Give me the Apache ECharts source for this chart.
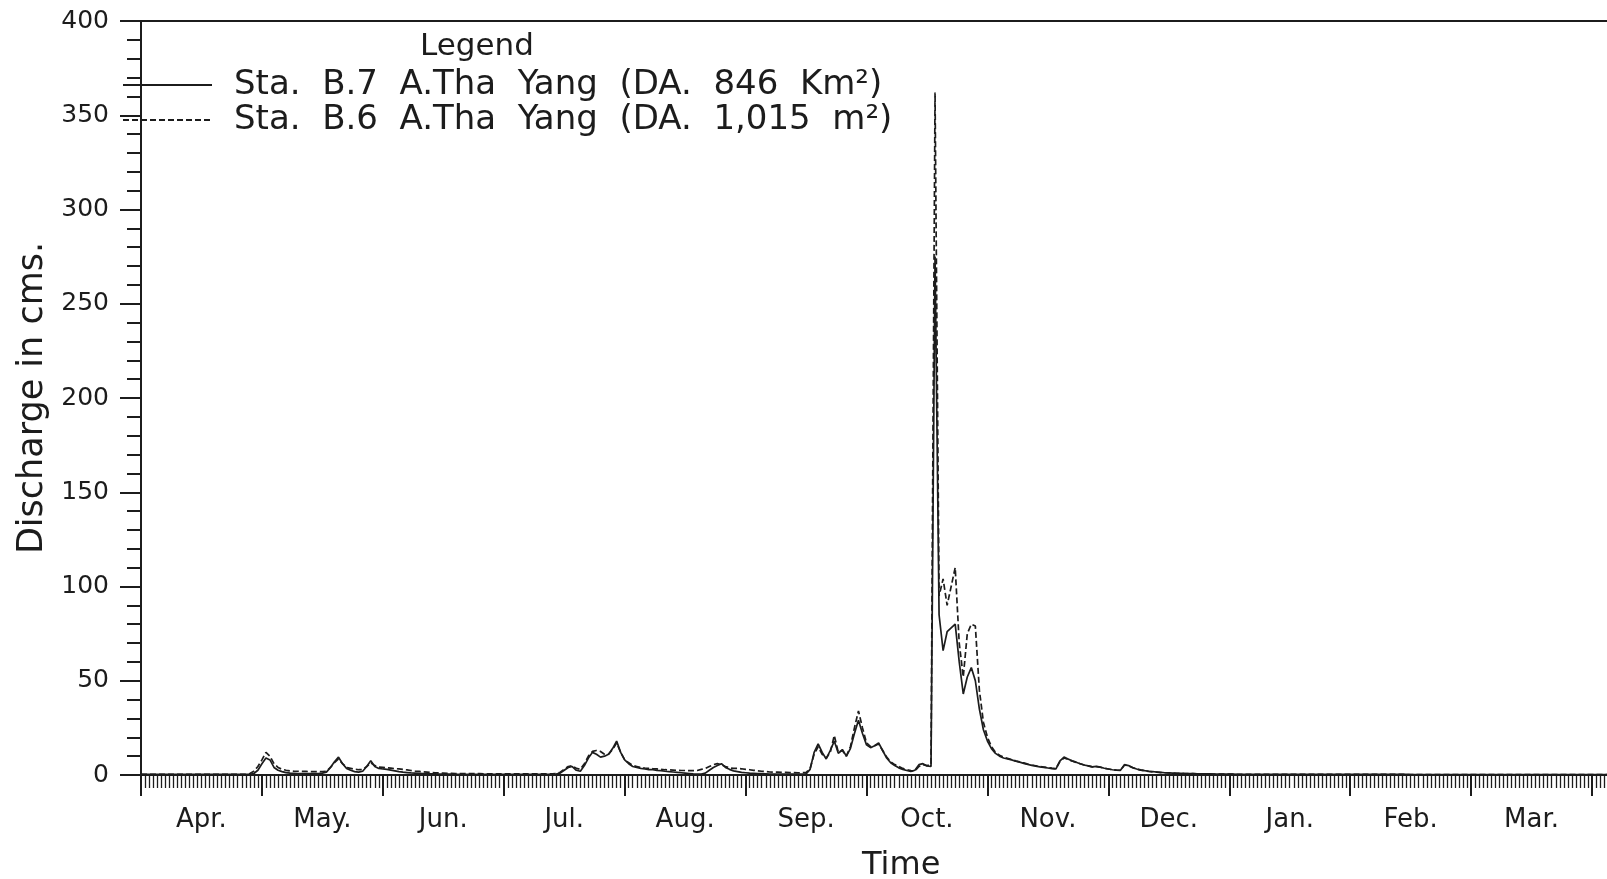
<!DOCTYPE html>
<html>
<head>
<meta charset="utf-8">
<script src="https://cdn.jsdelivr.net/npm/echarts@6/dist/echarts.min.js"></script>
<style>
html,body{margin:0;padding:0;background:#ffffff;}
#chart{width:1607px;height:879px;}
</style>
</head>
<body>
<div id="chart"></div>
<script>
// Month labels (each month drawn as an equal 30-day slot, as in the original plot)
var monthLabels = ['Apr.','May.','Jun.','Jul.','Aug.','Sep.','Oct.','Nov.','Dec.','Jan.','Feb.','Mar.','Apr.'];
var yTicks = [0,50,100,150,200,250,300,350,400];
var seriesNames = ['Sta.  B.7  A.Tha  Yang  (DA.  846  Km²)', 'Sta.  B.6  A.Tha  Yang  (DA.  1,015  m²)'];

// Daily discharge (cms), Sta. B.7 (solid line)
var b7 = [
  0.3,0.3,0.3,0.3,0.3,0.3,0.3,0.3,0.3,0.3,0.3,0.3,0.3,0.3,0.3,0.3,0.3,0.3,0.3,0.3,0.3,0.3,0.3,0.3,0.3,0.3,0.3,0.3,0.8,2.5,
  6,9,8,4,2.5,1.8,1.3,1.0,0.9,0.8,0.8,0.7,0.7,0.8,0.8,1.0,1.5,4,7,9.5,6,3.5,2.5,1.8,1.5,2,4.5,7.5,4.5,3.5,
  3.2,3,2.6,2.2,1.8,1.5,1.3,1.1,1,0.9,0.8,0.7,0.6,0.6,0.5,0.5,0.5,0.5,0.4,0.4,0.4,0.4,0.4,0.4,0.4,0.4,0.4,0.4,0.4,0.4,
  0.4,0.4,0.4,0.4,0.4,0.4,0.4,0.4,0.4,0.4,0.4,0.4,0.4,0.5,1,2.5,4,4.5,2.5,2,5,9,12,11,9.5,10,11,14,18,12,
  8,6,4.5,4,3.5,3.2,2.8,2.8,2.5,2.3,2,1.8,1.6,1.4,1.2,1,0.8,0.6,0.5,0.5,1,2.5,4,5,6,4,3,2.2,1.8,1.4,
  1.2,1,0.9,0.8,0.7,0.6,0.5,0.5,0.5,0.5,0.5,0.5,0.5,0.5,0.5,0.6,3,12,16.5,12,8.5,13,18,11.5,13.5,10,14,22,29,22,
  16,14.5,15.5,17,13,9,6.5,5,3.8,3,2.4,1.9,2.5,5.5,6,4.8,4.5,275,85,66,76,78,80,60,43,52,57,50,35,24,
  18,14,11.5,10,9,8.5,8,7.3,6.8,6.2,5.6,5.1,4.7,4.3,4,3.7,3.4,3.3,7.5,9.5,8.5,7.5,6.8,6,5.3,4.8,4.3,4.6,4.2,3.6,
  3.2,2.8,2.6,2.5,5.5,5,4,3.2,2.7,2.3,2,1.8,1.6,1.4,1.2,1.1,1,0.9,0.85,0.8,0.75,0.7,0.65,0.6,0.6,0.55,0.5,0.5,0.5,0.45,
  0.45,0.45,0.4,0.4,0.4,0.4,0.4,0.38,0.38,0.38,0.36,0.36,0.36,0.35,0.35,0.35,0.34,0.34,0.34,0.33,0.33,0.33,0.32,0.32,0.32,0.31,0.31,0.31,0.3,0.3,
  0.3,0.3,0.3,0.3,0.3,0.29,0.29,0.29,0.29,0.29,0.28,0.28,0.28,0.28,0.28,0.27,0.27,0.27,0.27,0.27,0.26,0.26,0.26,0.26,0.26,0.25,0.25,0.25,0.25,0.25,
  0.25,0.25,0.25,0.24,0.24,0.24,0.24,0.24,0.23,0.23,0.23,0.23,0.23,0.22,0.22,0.22,0.22,0.22,0.21,0.21,0.21,0.21,0.21,0.2,0.2,0.2,0.2,0.2,0.2,0.2,
  0.2,0.2,0.2,0.2,0.2
];

// Daily discharge (cms), Sta. B.6 (dashed line)
var b6 = [
  0.3,0.3,0.3,0.3,0.3,0.3,0.3,0.3,0.3,0.3,0.3,0.3,0.3,0.3,0.3,0.3,0.3,0.3,0.3,0.3,0.3,0.3,0.3,0.3,0.3,0.3,0.3,0.8,2,4.5,
  8,12,10,6,4,3,2.5,2.2,2,2,1.9,1.9,1.8,1.8,1.8,1.8,2,4,6.5,8.5,6,4,3.5,3,2.8,2.8,4.5,6.5,5,4.2,
  4,3.8,3.6,3.4,3.2,3,2.7,2.4,2.1,1.9,1.7,1.5,1.3,1.2,1.1,1,0.9,0.9,0.8,0.8,0.8,0.7,0.7,0.7,0.7,0.6,0.6,0.6,0.6,0.6,
  0.6,0.6,0.6,0.6,0.6,0.6,0.6,0.6,0.6,0.6,0.6,0.6,0.6,0.7,1.5,3,4.5,5,3.5,3,6,10,12.5,13,12.5,11,11,13.5,17,12,
  8,6.5,5,4.5,4,3.7,3.5,3.3,3.2,3,2.8,2.7,2.6,2.5,2.4,2.4,2.3,2.3,2.4,3,3.5,4.5,5.5,6,5.5,4.5,3.8,3.5,3.5,3.3,
  3,2.8,2.5,2.2,2,1.8,1.6,1.5,1.5,1.4,1.4,1.3,1.3,1.2,1.2,1.3,3.5,11,15,11,9,12,21,12,13,10,15,25,34,25,
  17,15,15.5,16.5,13,9.5,7,5.5,4.5,3.5,2.8,2.3,2.2,4.5,5.5,5,5.5,362,95,104,90,100,110,70,52,75,80,79,45,28,
  20,15,12,10.5,9.5,8.8,8.2,7.5,7,6.4,5.8,5.3,4.9,4.5,4.2,3.9,3.6,3.4,7.2,9,8.3,7.4,6.7,6,5.3,4.8,4.3,4.5,4.1,3.6,
  3.2,2.8,2.6,2.5,5.3,4.8,3.9,3.1,2.6,2.2,1.9,1.7,1.5,1.3,1.2,1.1,1,0.9,0.85,0.8,0.75,0.7,0.65,0.6,0.6,0.55,0.5,0.5,0.5,0.45,
  0.45,0.45,0.4,0.4,0.4,0.4,0.4,0.38,0.38,0.38,0.36,0.36,0.36,0.35,0.35,0.35,0.34,0.34,0.34,0.33,0.33,0.33,0.32,0.32,0.32,0.31,0.31,0.31,0.3,0.3,
  0.3,0.3,0.3,0.3,0.3,0.29,0.29,0.29,0.29,0.29,0.28,0.28,0.28,0.28,0.28,0.27,0.27,0.27,0.27,0.27,0.26,0.26,0.26,0.26,0.26,0.25,0.25,0.25,0.25,0.25,
  0.25,0.25,0.25,0.24,0.24,0.24,0.24,0.24,0.23,0.23,0.23,0.23,0.23,0.22,0.22,0.22,0.22,0.22,0.21,0.21,0.21,0.21,0.21,0.2,0.2,0.2,0.2,0.2,0.2,0.2,
  0.2,0.2,0.2,0.2,0.2
];

var FONT = 'DejaVu Sans';
var INK = '#1c1c1c';
var DAYS_PER_SLOT = 30;
var HALF = DAYS_PER_SLOT / 2;
var xMax = DAYS_PER_SLOT * monthLabels.length;

function toPairs(arr){ return arr.map(function(v,i){ return [i, v]; }); }

var chart = echarts.init(document.getElementById('chart'), null, {renderer:'canvas'});
chart.setOption({
  backgroundColor: '#ffffff',
  animation: false,
  textStyle: {fontFamily: FONT, color: INK},
  title: [
    {text: 'Legend', left: 420, top: 31, padding: 0,
     textStyle: {fontFamily: FONT, fontSize: 31, fontWeight: 'normal', color: INK}},
    {text: 'Time', left: 862, top: 850, padding: 0,
     textStyle: {fontFamily: FONT, fontSize: 32, fontWeight: 'normal', color: INK}}
  ],
  legend: {
    orient: 'vertical',
    left: 122, top: 68,
    itemWidth: 89, itemHeight: 14, itemGap: 1,
    padding: 0,
    data: seriesNames,
    itemStyle: {color: 'rgba(0,0,0,0)', borderWidth: 0, opacity: 0},
    textStyle: {fontFamily: FONT, fontSize: 34, color: INK, lineHeight: 34, padding: [0,0,0,17]},
    inactiveColor: INK
  },
  grid: {left: 141, top: 21, height: 754, width: 120.92 * monthLabels.length,
         containLabel: false, outerBoundsMode: 'none'},
  xAxis: [
    {
      type: 'value', min: 0, max: xMax, interval: DAYS_PER_SLOT, position: 'bottom',
      axisLine: {show: true, onZero: false, lineStyle: {color: INK, width: 2}},
      axisTick: {show: true, inside: false, length: 21, lineStyle: {color: INK, width: 2}},
      minorTick: {show: true, splitNumber: DAYS_PER_SLOT, length: 13, lineStyle: {color: INK, width: 1.3}},
      axisLabel: {show: false},
      splitLine: {show: false}, minorSplitLine: {show: false}
    },
    {
      type: 'value', min: 0, max: xMax, interval: HALF, position: 'bottom',
      axisLine: {show: false}, axisTick: {show: false},
      axisLabel: {show: true, margin: 32, fontFamily: FONT, fontSize: 26, color: INK,
        showMinLabel: true, showMaxLabel: true,
        formatter: function(v){
          var k = Math.round(v / HALF);
          return (k % 2 === 1) ? monthLabels[(k - 1) / 2] : '';
        }},
      splitLine: {show: false}
    },
    {
      type: 'value', min: 0, max: xMax, position: 'top',
      axisLine: {show: true, onZero: false, lineStyle: {color: INK, width: 2}},
      axisTick: {show: false}, axisLabel: {show: false}, splitLine: {show: false}
    }
  ],
  yAxis: {
    type: 'value', min: yTicks[0], max: yTicks[yTicks.length-1], interval: 50,
    name: 'Discharge in cms.', nameLocation: 'middle', nameGap: 90,
    nameTextStyle: {fontFamily: FONT, fontSize: 35, color: INK},
    axisLine: {show: true, onZero: false, lineStyle: {color: INK, width: 2}},
    axisTick: {show: true, inside: false, length: 21, lineStyle: {color: INK, width: 2}},
    minorTick: {show: true, splitNumber: 5, length: 14, lineStyle: {color: INK, width: 2}},
    axisLabel: {show: true, margin: 32, fontFamily: FONT, fontSize: 25, color: INK},
    splitLine: {show: false}, minorSplitLine: {show: false}
  },
  series: [
    {
      name: seriesNames[0], type: 'line', xAxisIndex: 0, yAxisIndex: 0,
      data: toPairs(b7), symbol: 'none', showSymbol: false, smooth: false,
      lineStyle: {color: INK, width: 1.7, type: 'solid'},
      itemStyle: {color: INK}, z: 3
    },
    {
      name: seriesNames[1], type: 'line', xAxisIndex: 0, yAxisIndex: 0,
      data: toPairs(b6), symbol: 'none', showSymbol: false, smooth: false,
      lineStyle: {color: INK, width: 1.7, type: [6, 3]},
      itemStyle: {color: INK}, z: 2
    }
  ]
});
</script>
</body>
</html>
